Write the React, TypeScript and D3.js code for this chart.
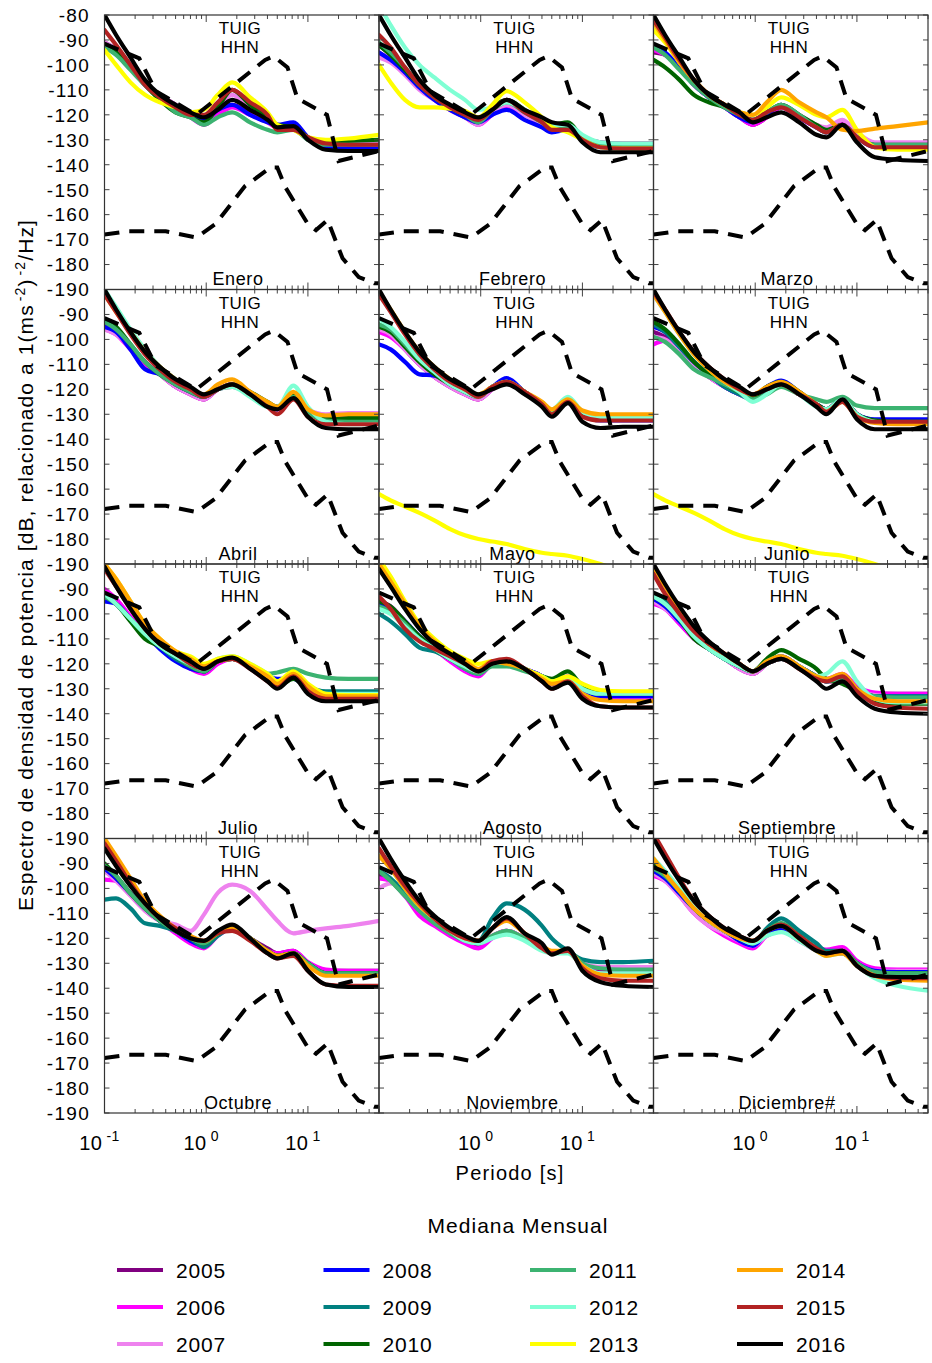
import React from 'react';
import * as d3 from 'd3';

// ---------- DATA ----------
const PERIODS = [0.1, 0.13, 0.18, 0.25, 0.35, 0.5, 0.7, 0.95, 1.3, 1.8, 2.7, 4.0, 5.0, 7.2, 10, 15, 25, 50];

const YEARS = [2005, 2006, 2007, 2008, 2009, 2010, 2011, 2012, 2013, 2014, 2015, 2016];
const YEAR_COLORS = ['#800080', '#ff00ff', '#ee82ee', '#0000ff', '#008080', '#006400', '#3cb371', '#7fffd4', '#ffff00', '#ffa500', '#b22222', '#000000'];

const NHNM_PERIODS = [0.1, 0.22, 0.32, 0.8, 3.8, 4.6, 6.3, 7.9, 15.4, 20, 50];
const NHNM_DB = [-91.5, -97.4, -110.5, -120.0, -98.0, -96.5, -101.0, -113.5, -120.0, -138.5, -134.5];
const NLNM_PERIODS = [0.1, 0.17, 0.4, 0.8, 1.24, 2.4, 4.3, 5.0, 6.0, 10, 12, 15.6, 21.9, 31.6, 45, 50];
const NLNM_DB = [-168.0, -166.7, -166.7, -169.2, -163.7, -148.6, -141.1, -141.1, -149.0, -163.8, -166.2, -162.1, -177.5, -185.0, -187.5, -187.5];

const MONTHS = ['Enero', 'Febrero', 'Marzo', 'Abril', 'Mayo', 'Junio', 'Julio', 'Agosto', 'Septiembre', 'Octubre', 'Noviembre', 'Diciembre#'];

const Y_TICKS = [-80, -90, -100, -110, -120, -130, -140, -150, -160, -170, -180, -190];

type Curve = { year: number; db: number[] };

const ENERO: Curve[] = [
  { year: 2005, db: [-91, -94, -100, -107, -112, -116, -120, -123, -119, -116, -119, -122, -124, -125, -129, -132, -132, -132] },
  { year: 2006, db: [-92, -95, -101, -108, -113, -117, -121, -124, -120, -117, -120, -123, -125, -125, -129, -132, -132.5, -132.5] },
  { year: 2007, db: [-91, -94, -100, -107, -112, -116, -120, -122, -117, -112, -117, -121, -124, -125, -129, -131, -131, -130.5] },
  { year: 2008, db: [-92, -95, -101, -108, -113, -117, -120, -122, -118, -116, -120, -123, -124, -123, -129, -133, -133.5, -133.5] },
  { year: 2010, db: [-92, -95, -101, -108, -114, -119, -121, -123, -117, -110, -116, -121, -124, -125, -129, -131, -130.5, -130] },
  { year: 2011, db: [-93, -96, -102, -108, -113, -119, -121, -124, -121, -119, -123, -126, -127, -126, -130, -132, -132, -132] },
  { year: 2013, db: [-94, -100, -107, -112, -115, -117, -119, -118, -112, -107, -113, -119, -124, -126, -129, -130, -129.5, -128] },
  { year: 2015, db: [-86, -92, -100, -108, -113, -117, -120, -120, -115, -110, -115, -120, -126, -126, -129, -131.5, -132, -132] },
  { year: 2016, db: [-80, -88, -97, -106, -112, -116, -119, -121, -118, -114, -118, -122, -125, -124.5, -130, -134, -134.5, -134.5] },
];

const FEBRERO: Curve[] = [
  { year: 2005, db: [-92, -96, -102, -108, -113, -117, -121, -123, -119, -116, -119, -123, -126, -126, -129, -131, -131.5, -131.5] },
  { year: 2006, db: [-95, -98, -103, -109, -114, -118, -121, -124, -120, -117, -120, -123, -126, -126, -130, -132, -132, -132] },
  { year: 2007, db: [-97, -99, -104, -110, -114, -118, -121, -124, -119, -116, -120, -124, -126, -126, -130, -132, -132, -132] },
  { year: 2008, db: [-95, -98, -103, -109, -114, -118, -121, -123, -120, -118, -122, -125, -127, -126, -130, -133, -133, -133] },
  { year: 2010, db: [-92, -96, -102, -108, -113, -117, -120, -122, -117, -114, -118, -122, -124, -123, -129, -132, -132, -132] },
  { year: 2011, db: [-91, -95, -101, -108, -113, -117, -120, -123, -118, -115, -119, -123, -125, -125, -129, -132, -132.5, -132.5] },
  { year: 2012, db: [-76, -84, -93, -100, -105, -110, -114, -118, -117, -115, -118, -122, -124, -124, -128, -131, -131.5, -131.5] },
  { year: 2013, db: [-100, -107, -114, -117, -117, -117.5, -118.5, -121, -116, -110.5, -115, -121, -125, -127, -130, -133, -133.5, -133.5] },
  { year: 2015, db: [-88, -93, -101, -108, -113, -117, -120, -122, -118, -114, -119, -123, -126, -126, -130, -133, -133.5, -133.5] },
  { year: 2016, db: [-80, -88, -97, -106, -112, -116, -119, -121, -118, -114, -118, -121, -123, -124, -131, -135, -135, -135] },
];

const MARZO: Curve[] = [
  { year: 2005, db: [-95, -96, -101, -108, -113, -117, -121, -124, -121, -117, -121, -125, -127, -124, -128, -132, -132, -132] },
  { year: 2006, db: [-94, -96, -101, -108, -113, -117, -121, -124, -121, -117, -121, -125, -126, -123, -128, -131.5, -131.5, -131.5] },
  { year: 2007, db: [-93, -95, -101, -108, -113, -117, -120, -123, -120, -116, -120, -124, -125, -122, -127, -131, -131, -131] },
  { year: 2008, db: [-92, -95, -101, -108, -113, -117, -121, -123, -120, -116, -121, -125, -127, -124, -129, -133, -133, -133] },
  { year: 2010, db: [-98, -101, -106, -112, -115, -117, -120, -122, -119, -116, -120, -124, -126, -124, -129, -132, -132, -132] },
  { year: 2011, db: [-93, -96, -102, -108, -113, -117, -120, -122, -119, -116, -120, -125, -127, -124, -129, -132, -132, -132] },
  { year: 2013, db: [-86, -91, -99, -106, -112, -116, -119, -120, -117, -113, -116, -120, -121, -118, -126, -133, -134, -134] },
  { year: 2014, db: [-83, -90, -99, -106, -112, -116, -119, -120, -115, -110, -115, -119, -121, -126, -126.5, -125.5, -124.5, -123] },
  { year: 2015, db: [-82, -89, -98, -106, -112, -116, -120, -122, -119, -117, -121, -125, -127, -124, -129, -133, -133, -133] },
  { year: 2016, db: [-80, -88, -97, -106, -112, -116, -119, -123, -121, -119, -123, -128, -129, -124, -131, -137, -138, -138.5] },
];

const ABRIL: Curve[] = [
  { year: 2005, db: [-94, -97, -103, -109, -114, -119, -122, -124, -120, -119, -122, -126, -128, -123, -129, -131.5, -131.5, -131.5] },
  { year: 2006, db: [-96, -98, -104, -110, -114, -119, -122, -124, -120, -118, -122, -126, -128, -123, -129, -131, -131, -131] },
  { year: 2007, db: [-96, -98, -103, -109, -114, -119, -122, -124, -120, -118, -122, -126, -127, -123, -128, -130, -129.5, -129.5] },
  { year: 2008, db: [-95, -97, -104, -112, -114, -118, -121, -123, -120, -118, -122, -126, -127, -123, -129, -132, -132, -132] },
  { year: 2010, db: [-92, -95, -102, -109, -114, -118, -121, -123, -120, -118, -121, -125, -127, -122, -129, -132, -131.5, -131.5] },
  { year: 2011, db: [-93, -96, -102, -109, -114, -118, -121, -123, -120, -118, -122, -126, -127, -123, -129, -132.5, -133, -133] },
  { year: 2012, db: [-80, -87, -96, -104, -111, -116, -120, -122, -120, -119, -123, -127, -127, -118.5, -127, -133, -134, -134] },
  { year: 2014, db: [-82, -89, -97, -105, -111, -116, -120, -122, -118, -116, -121, -125, -127, -121, -128, -130.5, -130, -130] },
  { year: 2015, db: [-82, -89, -98, -106, -112, -117, -120, -123, -120, -118, -122, -127, -130, -124, -131, -134, -134, -134] },
  { year: 2016, db: [-80, -88, -97, -105, -111, -116, -119, -122, -120, -118, -122, -127, -128, -123.5, -131, -135.5, -136, -136] },
];

const MAYO: Curve[] = [
  { year: 2005, db: [-96, -98, -104, -110, -115, -119, -122, -124, -120, -117, -121, -126, -129, -125, -130, -132, -132, -132] },
  { year: 2006, db: [-97, -99, -104, -110, -115, -119, -122, -124, -120, -117, -121, -126, -129, -125, -130, -132, -132, -132] },
  { year: 2007, db: [-96, -98, -104, -110, -115, -119, -122, -124, -120, -117, -121, -126, -129, -125, -130, -132, -132, -132] },
  { year: 2008, db: [-102, -104, -109, -114, -114.5, -117, -121, -123, -119, -115.5, -121, -126, -129, -125, -130, -132.5, -132.5, -132.5] },
  { year: 2010, db: [-95, -97, -103, -109, -114, -118, -121, -123, -119, -117, -121, -126, -129, -124, -130, -131.5, -131.5, -131.5] },
  { year: 2011, db: [-94, -96, -102, -108, -113, -118, -121, -123, -119, -117, -121, -126, -129, -124, -129, -131, -131, -131] },
  { year: 2012, db: [-92, -95, -101, -108, -113, -118, -121, -123, -119, -117, -121, -126, -128, -123, -129, -131.5, -131.5, -131.5] },
  { year: 2013, db: [-162, -164.5, -167, -169.5, -172.5, -176, -178.5, -180, -181, -182, -184, -185.5, -186, -186.7, -188, -190, -193, -197] },
  { year: 2014, db: [-81, -88, -97, -105, -111, -116, -120, -122, -119, -117, -121, -125, -128, -124, -128.5, -130, -130, -130] },
  { year: 2015, db: [-82, -89, -98, -106, -112, -117, -120, -123, -119, -117, -121, -126, -130, -125, -131, -132.5, -132.5, -132.5] },
  { year: 2016, db: [-80, -88, -97, -105, -111, -116, -119, -122, -120, -118, -122, -127, -131, -125.5, -133, -135.5, -135, -135] },
];

const JUNIO: Curve[] = [
  { year: 2005, db: [-97, -99, -104, -110, -115, -119, -122, -124, -120, -118, -122, -126, -128, -124, -130, -132.5, -133, -133] },
  { year: 2006, db: [-102, -100.5, -104, -110, -115, -119, -122, -124, -120, -118, -122, -126, -128, -124, -130, -132.5, -133, -133] },
  { year: 2007, db: [-99, -100, -105, -110, -115, -119, -122, -124, -120, -118, -122, -126, -128, -124, -130, -132.5, -133, -133] },
  { year: 2008, db: [-95, -97, -103, -109, -114, -119, -122, -123, -119, -116.5, -121, -126, -128, -124, -130, -132, -132, -132] },
  { year: 2009, db: [-94, -97, -103, -109, -114, -119, -122, -124, -120, -118, -122, -126, -128, -124, -130, -132.5, -133, -133] },
  { year: 2010, db: [-93, -96, -102, -109, -114, -118, -121, -123, -119, -117, -121, -126, -128, -124, -130, -132.5, -133, -133] },
  { year: 2011, db: [-99, -101, -106, -112, -115, -118, -121, -124, -122, -119, -122, -124, -125, -123, -126.5, -127.5, -127.5, -127.5] },
  { year: 2012, db: [-82, -89, -98, -106, -112, -117, -121, -125, -122, -118, -122, -127, -128, -124, -130, -133, -133.5, -133.5] },
  { year: 2013, db: [-162, -164.5, -167, -169.5, -172.5, -176, -178.5, -180, -181, -182, -184, -185.5, -186, -186.7, -188, -190, -193, -197] },
  { year: 2014, db: [-82, -89, -98, -106, -112, -117, -120, -122, -119, -117, -121, -126, -129, -125, -131, -133.5, -134, -134] },
  { year: 2015, db: [-81, -88, -97, -105, -111, -116, -120, -122, -120, -118, -122, -126, -129, -125, -131, -133, -133, -133] },
  { year: 2016, db: [-80, -88, -97, -105, -111, -116, -119, -122, -120, -118, -122, -127, -130, -124, -132, -136, -136, -136] },
];

const JULIO: Curve[] = [
  { year: 2005, db: [-92, -96, -102, -108, -113, -117, -121, -123, -119, -118, -121, -125, -128, -125, -130, -133, -133, -133] },
  { year: 2006, db: [-90, -94, -101, -108, -113, -118, -122, -124, -120, -118, -121, -125, -128, -125, -130, -133, -133, -133] },
  { year: 2007, db: [-92, -96, -102, -108, -113, -117, -121, -123, -119, -118, -121, -125, -128, -125, -130, -133, -133, -133] },
  { year: 2008, db: [-95, -96, -102, -108, -114, -119, -122, -123, -119, -118, -121, -125, -126, -126, -130, -133, -133, -133] },
  { year: 2009, db: [-93, -96, -102, -108, -113, -118, -121, -123, -119, -118, -121, -125, -128, -125, -129, -131, -131, -131] },
  { year: 2010, db: [-93, -96, -103, -110, -113, -117, -121, -123, -119, -118, -121, -126, -129, -126, -130, -133, -133, -133] },
  { year: 2011, db: [-93, -96, -102, -108, -113, -117, -121, -123, -119, -118, -121, -124, -123.5, -122, -124, -125.5, -126, -126] },
  { year: 2012, db: [-92, -96, -102, -108, -113, -117, -120, -122, -118, -117, -120, -124, -127, -124, -130, -132, -132, -132] },
  { year: 2013, db: [-80, -86, -95, -104, -110, -115, -117, -120, -118, -117, -120, -124, -127, -123, -128, -132, -132.5, -132.5] },
  { year: 2014, db: [-80, -86, -95, -104, -110, -115, -118, -121, -119, -118, -121, -125, -128, -124, -129, -133, -133, -133] },
  { year: 2015, db: [-82, -89, -98, -106, -112, -116, -120, -122, -119, -118, -122, -127, -129.5, -125, -131, -134, -134, -134] },
  { year: 2016, db: [-81, -89, -98, -106, -112, -116, -119, -122, -119, -117.5, -122, -127, -130, -125.5, -132, -135, -135, -135] },
];

const AGOSTO: Curve[] = [
  { year: 2005, db: [-95, -97, -103, -109, -114, -118, -122, -124, -120, -119, -122, -125, -128, -126, -130, -133, -133, -133] },
  { year: 2006, db: [-95, -97, -103, -109, -114, -119, -123, -125, -120, -119, -122, -125, -128, -125, -130, -133.5, -134, -134] },
  { year: 2007, db: [-96, -98, -103, -109, -114, -118, -122, -124, -120, -119, -122, -125, -128, -126, -130, -133, -133, -133] },
  { year: 2008, db: [-96, -98, -103, -109, -114, -118, -122, -124, -120, -119, -122, -125, -128, -126, -130, -133, -133, -133] },
  { year: 2009, db: [-100, -103, -108, -113.5, -115, -118, -121, -123, -120, -119, -122, -125, -127, -126, -129, -131.5, -132, -132] },
  { year: 2010, db: [-95, -97, -103, -109, -114, -118, -121, -123, -120, -119, -122, -125, -126, -123, -129, -131.5, -132, -132] },
  { year: 2011, db: [-97, -99, -104, -110, -114, -118, -122, -124, -121, -121, -123, -125, -127, -126, -130, -132, -132, -132] },
  { year: 2012, db: [-98, -100, -105, -110, -114, -118, -121, -123, -120, -119, -122, -125, -127, -126, -130, -132, -132, -132] },
  { year: 2013, db: [-78, -85, -95, -104, -110, -115, -118, -120, -119, -119, -122, -125, -127, -125, -128, -130.5, -131, -131] },
  { year: 2014, db: [-80, -87, -96, -105, -111, -116, -119, -122, -119, -120, -122, -126, -128, -127, -132, -134.5, -135, -135] },
  { year: 2015, db: [-93, -98, -106, -111, -114, -117, -120, -123, -119, -118, -122, -127, -130, -127, -133, -137, -137.5, -137.5] },
  { year: 2016, db: [-82, -89, -98, -106, -112, -116, -120, -123, -120, -119, -122, -127, -130, -127.5, -134, -137, -137.5, -137.5] },
];

const SEPTIEMBRE: Curve[] = [
  { year: 2005, db: [-94, -97, -103, -109, -114, -118, -122, -124, -120, -117, -121, -125, -127, -127, -130, -132, -132, -132] },
  { year: 2006, db: [-96, -98, -104, -110, -114, -118, -122, -124, -120, -117, -121, -125, -126, -124, -129, -131.5, -132, -132] },
  { year: 2007, db: [-95, -98, -103, -109, -114, -118, -122, -124, -120, -117, -121, -125, -127, -125, -130, -132.5, -133, -133] },
  { year: 2008, db: [-94, -97, -103, -109, -114, -118, -121, -123, -120, -118, -121, -125, -127, -126, -130, -133, -133, -133] },
  { year: 2009, db: [-92, -95, -102, -109, -114, -118, -121, -123, -120, -118, -121, -125, -127, -126, -130, -133, -133, -133] },
  { year: 2010, db: [-93, -96, -102, -110, -114, -118, -121, -123, -118, -114.5, -118, -122, -126, -128, -131, -135, -136, -136] },
  { year: 2011, db: [-93, -96, -102, -109, -114, -118, -121, -123, -119, -117, -121, -125, -127, -126, -130, -133, -133.5, -133.5] },
  { year: 2012, db: [-93, -96, -102, -109, -114, -118, -121, -123, -120, -118, -121, -125, -124, -119, -127, -134, -135.5, -135.5] },
  { year: 2014, db: [-82, -89, -98, -106, -112, -116, -120, -123, -119, -117, -121, -125, -126, -124, -130, -134, -135, -135] },
  { year: 2015, db: [-84, -92, -100, -107, -112, -116, -120, -123, -120, -118, -122, -126, -127, -125, -131, -136, -137.5, -138] },
  { year: 2016, db: [-80, -88, -97, -105, -111, -116, -120, -123, -120, -118, -122, -127, -130, -127, -133, -138, -139.5, -140] },
];

const OCTUBRE: Curve[] = [
  { year: 2005, db: [-93, -96, -102, -108, -113, -117, -121, -123, -118, -116, -120, -124, -126, -125, -130, -133, -133, -133] },
  { year: 2006, db: [-96.5, -97, -102, -108, -113, -118, -122, -124, -119, -116, -120, -125, -126, -125, -129.5, -132.5, -133, -133] },
  { year: 2007, db: [-93, -97, -103, -109, -113, -114.5, -117, -110.5, -101.8, -98.5, -101, -108.5, -113, -118, -117, -116, -115, -113] },
  { year: 2008, db: [-92, -96, -102, -108, -113, -117, -121, -123, -118, -116, -120, -125, -127, -126, -130, -134, -134, -134] },
  { year: 2009, db: [-104.5, -104, -108, -114, -115, -117, -120, -123.5, -119, -116, -120, -125, -127, -126, -130, -134, -134, -134] },
  { year: 2010, db: [-90, -95, -102, -108, -113, -117, -120, -122, -118, -116, -120, -125, -127, -126, -130, -134, -134, -134] },
  { year: 2011, db: [-91, -95, -102, -108, -113, -117, -120, -122, -118, -116, -120, -125, -127, -126, -130, -134, -134, -134] },
  { year: 2014, db: [-80, -87, -96, -105, -111, -116, -119, -121, -118, -116, -120, -125, -127, -126, -131, -135, -135, -135] },
  { year: 2015, db: [-82, -89, -98, -106, -112, -116, -120, -121, -118, -117, -121, -126, -128, -127, -133, -138.5, -139, -139] },
  { year: 2016, db: [-84, -91, -99, -106, -112, -117, -120, -121, -117, -114.5, -120, -126, -128, -126, -133, -138.5, -139.5, -139.5] },
];

const NOVIEMBRE: Curve[] = [
  { year: 2005, db: [-95, -97, -103, -109, -114, -118, -121, -123, -119, -117, -120, -124, -126, -125, -130, -132.5, -133, -133] },
  { year: 2006, db: [-96, -97, -103, -111, -115, -119, -122, -124, -120, -117, -120, -124, -126, -125, -130, -132, -132, -132] },
  { year: 2007, db: [-100, -98, -99.5, -106, -113, -117, -120, -122, -119, -117, -120, -124, -126, -125, -130, -131.5, -131.5, -131.5] },
  { year: 2009, db: [-93, -96, -102, -108, -113, -117, -120, -121, -112, -106, -108.5, -115, -120, -125, -128.5, -129.5, -129.5, -129] },
  { year: 2011, db: [-93, -97, -103, -109, -114, -118, -121, -122, -119, -117, -120, -124, -126, -125, -130, -132, -132.5, -132.5] },
  { year: 2012, db: [-86, -92, -100, -107, -112, -117, -121, -122, -120, -118.5, -121, -125, -126, -126, -131, -134, -134, -134] },
  { year: 2014, db: [-87, -92, -100, -107, -112, -117, -120, -121, -116, -113, -118, -123, -125, -125, -131, -134.5, -135, -135] },
  { year: 2015, db: [-84, -91, -99, -106, -112, -117, -120, -121, -116, -112, -118, -124, -126, -125, -132, -136, -137, -137] },
  { year: 2016, db: [-80, -88, -97, -105, -111, -116, -119, -121, -116, -111.5, -118, -122, -126.5, -124, -133, -137.5, -139, -139.5] },
];

const DICIEMBRE: Curve[] = [
  { year: 2005, db: [-93, -96, -102, -108, -113, -117, -121, -123, -118, -116, -120, -124, -126, -126, -130, -132.5, -133, -133] },
  { year: 2006, db: [-95, -97, -103, -110, -115, -119, -122, -124, -119, -117, -121, -124, -124.5, -123.5, -129, -132, -132.5, -132.5] },
  { year: 2007, db: [-94, -97, -103, -110, -115, -118, -121, -123, -119, -117, -121, -125, -126.5, -126, -130, -133, -133, -133] },
  { year: 2008, db: [-93, -96, -102, -108, -113, -117, -121, -123, -118, -116, -120, -124, -126, -126, -130, -133, -133.5, -133.5] },
  { year: 2009, db: [-92, -95, -101, -108, -113, -117, -120, -122, -116, -112, -117, -122, -125, -125, -130, -133.5, -134, -134] },
  { year: 2010, db: [-90, -94, -101, -108, -113, -117, -120, -122, -117, -114, -119, -124, -126, -125, -130, -134, -134, -134] },
  { year: 2011, db: [-92, -95, -101, -108, -113, -117, -120, -122, -117, -114, -119, -124, -126, -125, -130, -133.5, -134, -134] },
  { year: 2012, db: [-88, -93, -100, -107, -113, -117, -120, -122, -119, -117.5, -121, -125, -127, -126, -131, -136, -139, -141] },
  { year: 2014, db: [-88, -94, -101, -108, -113, -117, -120, -121, -117, -115, -120, -125, -127, -126, -131, -135, -136.5, -137] },
  { year: 2015, db: [-78, -86, -96, -105, -111, -116, -119, -121, -117, -114.5, -119, -124, -126, -125, -131, -135, -136, -136] },
  { year: 2016, db: [-80, -88, -97, -105, -111, -116, -119, -121, -117, -115, -120, -125, -126, -125, -131, -135, -135.5, -135.5] },
];

const MONTH_CURVES: Curve[][] = [ENERO, FEBRERO, MARZO, ABRIL, MAYO, JUNIO, JULIO, AGOSTO, SEPTIEMBRE, OCTUBRE, NOVIEMBRE, DICIEMBRE];

// ---------- LAYOUT ----------
const W = 932;
const H = 1363;
const LEFT = 104.5;
const TOP = 15;
const PW = 274.5;
const PH = 274.5;
const FONT = "'Liberation Sans', Arial, Helvetica, sans-serif";

const colorOf = (year: number) => YEAR_COLORS[YEARS.indexOf(year)];

function logTicks(): { v: number; major: boolean }[] {
  const out: { v: number; major: boolean }[] = [];
  [0.1, 1, 10].forEach((dec) => {
    for (let m = 1; m <= 9; m++) {
      const v = dec * m;
      if (v <= 50.0001) out.push({ v, major: m === 1 });
    }
  });
  return out;
}
const X_TICKS = logTicks();

function Panel({ idx }: { idx: number }) {
  const col = idx % 3;
  const row = Math.floor(idx / 3);
  const x0 = LEFT + col * PW;
  const y0 = TOP + row * PH;
  const x = d3.scaleLog().domain([0.1, 50]).range([x0, x0 + PW]);
  const y = d3.scaleLinear().domain([-80, -190]).range([y0, y0 + PH]);
  const line = d3
    .line<number>()
    .x((_, i) => x(PERIODS[i]))
    .y((v) => y(v))
    .curve(d3.curveMonotoneX);
  const nline = (ps: number[]) =>
    d3
      .line<number>()
      .x((_, i) => x(ps[i]))
      .y((v) => y(v));
  const clipId = `clip-${idx}`;
  const curves = MONTH_CURVES[idx];
  const cx = x0 + 135.5;
  return (
    <g>
      <defs>
        <clipPath id={clipId}>
          <rect x={x0} y={y0} width={PW} height={PH} />
        </clipPath>
      </defs>
      <g clipPath={`url(#${clipId})`}>
        {curves.map((c) => (
          <path key={c.year} d={line(c.db) || ''} fill="none" stroke={colorOf(c.year)} strokeWidth={4.2} strokeLinejoin="round" strokeLinecap="round" />
        ))}
        <path d={nline(NHNM_PERIODS)(NHNM_DB) || ''} fill="none" stroke="#000" strokeWidth={4} strokeDasharray="15 10" />
        <path d={nline(NLNM_PERIODS)(NLNM_DB) || ''} fill="none" stroke="#000" strokeWidth={4} strokeDasharray="15 10" />
      </g>
      {Y_TICKS.map((t) => (
        <g key={`yt${t}`}>
          <line x1={x0} x2={x0 + 5} y1={y(t)} y2={y(t)} stroke="#444" strokeWidth={1} />
          <line x1={x0 + PW - 5} x2={x0 + PW} y1={y(t)} y2={y(t)} stroke="#444" strokeWidth={1} />
        </g>
      ))}
      {X_TICKS.map((t, i) => {
        const len = t.major ? 7 : 4;
        return (
          <g key={`xt${i}`}>
            <line x1={x(t.v)} x2={x(t.v)} y1={y0} y2={y0 + len} stroke="#444" strokeWidth={1} />
            <line x1={x(t.v)} x2={x(t.v)} y1={y0 + PH - len} y2={y0 + PH} stroke="#444" strokeWidth={1} />
          </g>
        );
      })}
      <rect x={x0} y={y0} width={PW} height={PH} fill="none" stroke="#333" strokeWidth={1.2} />
      <text x={cx} y={y0 + 19} textAnchor="middle" fontSize={17} letterSpacing={0.5} fontFamily={FONT}>TUIG</text>
      <text x={cx} y={y0 + 38} textAnchor="middle" fontSize={17} letterSpacing={0.5} fontFamily={FONT}>HHN</text>
      <text x={cx - 2} y={y0 + 270} textAnchor="middle" fontSize={18} letterSpacing={0.6} fontFamily={FONT}>{MONTHS[idx]}</text>
    </g>
  );
}

function YLabels() {
  const rows = [0, 1, 2, 3];
  return (
    <g fontFamily={FONT} fontSize={19} letterSpacing={1.3}>
      {rows.map((r) => {
        const y = d3.scaleLinear().domain([-80, -190]).range([TOP + r * PH, TOP + (r + 1) * PH]);
        return Y_TICKS.filter((t) => r === 0 || t !== -80).map((t) => (
          <text key={`${r}-${t}`} x={90} y={y(t)} dy="0.36em" textAnchor="end">
            {t}
          </text>
        ));
      })}
    </g>
  );
}

function XLabels() {
  const cols = [0, 1, 2];
  return (
    <g fontFamily={FONT}>
      {cols.map((c) => {
        const x = d3.scaleLog().domain([0.1, 50]).range([LEFT + c * PW, LEFT + (c + 1) * PW]);
        const decades = c === 0 ? [-1, 0, 1] : [0, 1];
        return decades.map((d) => (
          <text key={`${c}${d}`} x={x(Math.pow(10, d)) - 5} y={1150} textAnchor="middle" fontSize={20} letterSpacing={0.5}>
            10
            <tspan dx={4} dy={-9} fontSize={14}>{String(d)}</tspan>
          </text>
        ));
      })}
      <text x={510} y={1180} textAnchor="middle" fontSize={20} letterSpacing={1.2}>Periodo [s]</text>
    </g>
  );
}

function YTitle() {
  return (
    <text transform="translate(33,565) rotate(-90)" textAnchor="middle" fontFamily={FONT} fontSize={21} letterSpacing={1.1}>
      Espectro de densidad de potencia [dB, relacionado a  1(ms
      <tspan dx={3} dy={-8} fontSize={14}>-2</tspan>
      <tspan dy={8}>)</tspan>
      <tspan dx={3} dy={-8} fontSize={14}>-2</tspan>
      <tspan dy={8}>/Hz]</tspan>
    </text>
  );
}

function Legend() {
  const colX = [117, 323.5, 530, 737];
  const rowY = [1270, 1307, 1344];
  return (
    <g fontFamily={FONT}>
      <text x={518} y={1233} textAnchor="middle" fontSize={21} letterSpacing={1}>Mediana Mensual</text>
      {YEARS.map((yr, i) => {
        const c = Math.floor(i / 3);
        const r = i % 3;
        return (
          <g key={yr}>
            <line x1={colX[c]} x2={colX[c] + 46} y1={rowY[r]} y2={rowY[r]} stroke={YEAR_COLORS[i]} strokeWidth={4} />
            <text x={colX[c] + 59} y={rowY[r]} dy="0.36em" fontSize={21} letterSpacing={0.8}>{yr}</text>
          </g>
        );
      })}
    </g>
  );
}

export default function App() {
  return (
    <div style={{ position: 'absolute', left: 0, top: 0 }}>
      <svg width={W} height={H} viewBox={`0 0 ${W} ${H}`} style={{ display: 'block', background: '#fff' }}>
        <rect x={0} y={0} width={W} height={H} fill="#fff" />
        {MONTHS.map((_, i) => (
          <Panel key={i} idx={i} />
        ))}
        <YLabels />
        <XLabels />
        <YTitle />
        <Legend />
      </svg>
    </div>
  );
}
